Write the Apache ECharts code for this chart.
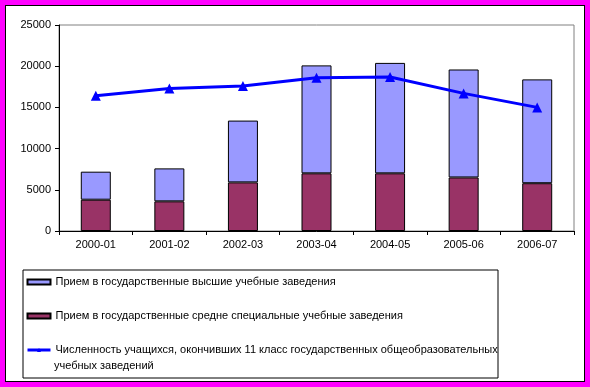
<!DOCTYPE html>
<html><head><meta charset="utf-8">
<script src="https://cdn.jsdelivr.net/npm/echarts@6/dist/echarts.min.js"></script>
<style>
html,body{margin:0;padding:0;background:#ff00ff;}
#frame{position:absolute;left:5px;top:5px;width:578px;height:375px;border:1px solid #000;background:#fff;}
#chart{position:absolute;left:0;top:0;width:590px;height:387px;}
</style></head>
<body><div id="frame"></div><div id="chart"></div>
<script>
const categories = ['2000-01','2001-02','2002-03','2003-04','2004-05','2005-06','2006-07'];
const nameHigher = 'Прием в государственные высшие учебные заведения';
const nameSecondary = 'Прием в государственные средне специальные учебные заведения';
const nameGraduatesLine1 = 'Численность учащихся, окончивших 11 класс государственных общеобразовательных';
const nameGraduatesLine2 = 'учебных заведений';
const nameGraduates = nameGraduatesLine1 + ' ' + nameGraduatesLine2;
const secondaryValues = [3800, 3600, 5900, 7000, 7000, 6500, 5800];
const higherValues = [3400, 4000, 7500, 13100, 13400, 13100, 12600];
const graduatesValues = [16400, 17300, 17600, 18600, 18700, 16700, 15000];
const yTicks = [0, 5000, 10000, 15000, 20000, 25000];

const font = 'Liberation Sans, Arial, sans-serif';
const chart = echarts.init(document.getElementById('chart'), null, {renderer:'canvas'});
chart.setOption({
  backgroundColor: 'transparent',
  animation: false,
  textStyle: {fontFamily: font},
  grid: {left: 59, top: 25, right: 16, bottom: 156, show: true, borderColor: '#808080', borderWidth: 1, backgroundColor: 'transparent'},
  xAxis: {
    type: 'category', data: categories,
    axisLine: {lineStyle: {color: '#000', width: 1}},
    axisTick: {show: true, length: 4, lineStyle: {color: '#000'}},
    axisLabel: {color: '#000', fontSize: 11, margin: 8, fontFamily: font}
  },
  yAxis: {
    type: 'value', min: yTicks[0], max: yTicks[yTicks.length-1], interval: 5000,
    axisLine: {show: true, lineStyle: {color: '#000', width: 1}},
    axisTick: {show: true, length: 4, lineStyle: {color: '#000'}},
    splitLine: {show: false},
    axisLabel: {color: '#000', fontSize: 11, margin: 8, fontFamily: font, formatter: function(v){ return String(v); }}
  },
  legend: {
    orient: 'vertical', left: 26, top: 274, height: 200, padding: 0, itemWidth: 23, itemHeight: 5, itemGap: 18,
    textStyle: {fontSize: 11, color: '#000', fontFamily: font, lineHeight: 16},
    data: [
      {name: nameHigher, icon: 'rect'},
      {name: nameSecondary, icon: 'rect'},
      {name: nameGraduates, lineStyle: {width: 3, color: '#0000FF'}, itemStyle: {color: '#0000FF'}}
    ],
    formatter: function(n){ return n === nameGraduates ? nameGraduatesLine1 : n; }
  },
  graphic: [
    {type: 'rect', shape: {x: 23, y: 270, width: 475, height: 108}, style: {fill: 'none', stroke: '#000', lineWidth: 1}, silent: true},
    {type: 'text', x: 54, y: 366, style: {text: nameGraduatesLine2, font: '11px ' + font, fill: '#000', verticalAlign: 'middle'}, silent: true}
  ],
  series: [
    {name: nameSecondary, type: 'bar', stack: 'a', data: secondaryValues, barWidth: 30,
     itemStyle: {color: '#993366', borderColor: '#000', borderWidth: 1}},
    {name: nameHigher, type: 'bar', stack: 'a', data: higherValues, barWidth: 30,
     itemStyle: {color: '#9999FF', borderColor: '#000', borderWidth: 1}},
    {name: nameGraduates, type: 'line', data: graduatesValues, symbol: 'triangle', symbolSize: 10,
     lineStyle: {color: '#0000FF', width: 3}, itemStyle: {color: '#0000FF'}, z: 5}
  ]
});
</script></body></html>
